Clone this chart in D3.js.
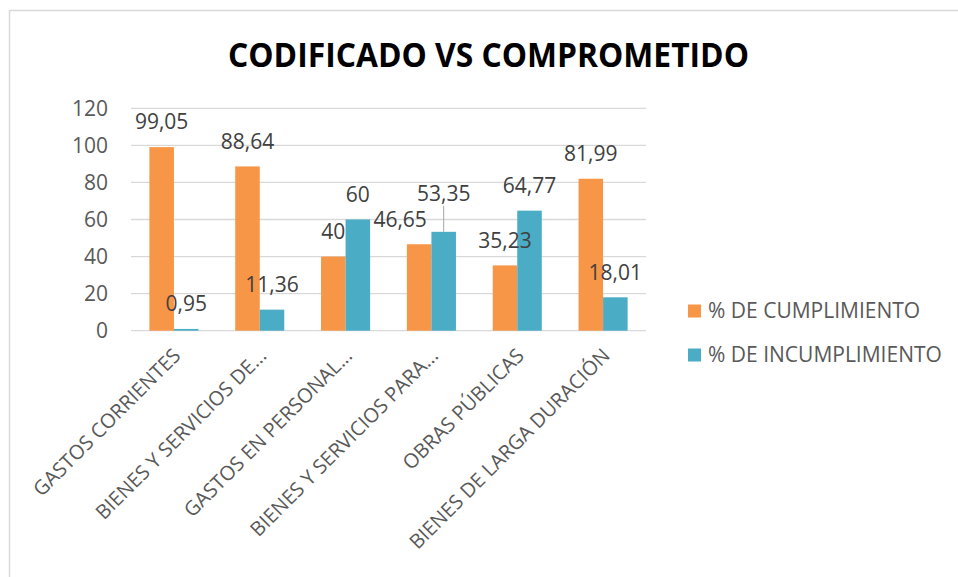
<!DOCTYPE html>
<html>
<head>
<meta charset="utf-8">
<script src="https://cdn.jsdelivr.net/npm/d3@7"></script>
<style>
  body { margin: 0; background: #fff; }
  svg { display: block; }
  text { font-family: "Open Sans", "Noto Sans", sans-serif; }
</style>
</head>
<body>
<svg id="chart"></svg>
<script>
const categories = ["GASTOS CORRIENTES", "BIENES Y SERVICIOS DE...", "GASTOS EN PERSONAL...",
    "BIENES Y SERVICIOS PARA...", "OBRAS PÚBLICAS", "BIENES DE LARGA DURACIÓN"];
const seriesNames = ["% DE CUMPLIMIENTO", "% DE INCUMPLIMIENTO"];
const cumplimiento = [99.05, 88.64, 40, 46.65, 35.23, 81.99];
const incumplimiento = [0.95, 11.36, 60, 53.35, 64.77, 18.01];
const yTicks = [0, 20, 40, 60, 80, 100, 120];

document.addEventListener("DOMContentLoaded", function () {
    const width = 958, height = 577;
    const colors = ["#F79646", "#4BACC6"];
    const textColor = "#595959";
    const labelColor = "#404040";

    const svg = d3.select("#chart")
        .attr("width", width)
        .attr("height", height);

    // chart frame (only top and left edges are in view)
    svg.append("rect")
        .attr("x", 9.5).attr("y", 10.5)
        .attr("width", 1000).attr("height", 600)
        .attr("fill", "none")
        .attr("stroke", "#d9d9d9")
        .attr("stroke-width", 1.5);

    svg.append("text")
        .attr("x", 488.5).attr("y", 67)
        .attr("text-anchor", "middle")
        .attr("font-size", 34)
        .attr("font-weight", "bold")
        .attr("fill", "#000")
        .attr("textLength", 521)
        .attr("lengthAdjust", "spacingAndGlyphs")
        .text("CODIFICADO VS COMPROMETIDO");

    const x = d3.scaleBand().domain(categories).range([131, 646]);
    const xs = d3.scaleBand().domain([0, 1]).range([0, x.bandwidth()]).paddingOuter(0.75);
    const y = d3.scaleLinear().domain([0, 120]).range([330.7, 108.3]);

    // gridlines
    svg.append("g")
        .selectAll("line")
        .data(yTicks)
        .join("line")
        .attr("x1", 131).attr("x2", 646)
        .attr("y1", d => y(d)).attr("y2", d => y(d))
        .attr("stroke", "#d9d9d9")
        .attr("stroke-width", 1.3);

    // y tick labels
    svg.append("g")
        .selectAll("text")
        .data(yTicks)
        .join("text")
        .attr("x", 108)
        .attr("y", d => y(d))
        .attr("dy", "0.35em")
        .attr("text-anchor", "end")
        .attr("font-size", 21)
        .attr("fill", textColor)
        .text(d => d);

    const series = [cumplimiento, incumplimiento];
    const rows = [];
    series.forEach((vals, s) => vals.forEach((v, i) => rows.push({ s, i, v })));

    svg.append("g")
        .selectAll("rect")
        .data(rows)
        .join("rect")
        .attr("x", d => x(categories[d.i]) + xs(d.s))
        .attr("y", d => y(d.v))
        .attr("width", xs.bandwidth())
        .attr("height", d => y(0) - y(d.v))
        .attr("fill", d => colors[d.s]);

    // manual nudges for overlapping data labels (series-category)
    const nudge = { "0-3": { dx: -19, dy: 0 }, "1-3": { dx: 0, dy: -13 } };
    const fmt = v => String(v).replace(".", ",");

    const labels = svg.append("g");
    rows.forEach(d => {
        const n = nudge[d.s + "-" + d.i] || { dx: 0, dy: 0 };
        const cx = x(categories[d.i]) + xs(d.s) + xs.bandwidth() / 2;
        const cy = y(d.v) - 25 + n.dy;
        labels.append("text")
            .attr("x", cx + n.dx)
            .attr("y", cy)
            .attr("dy", "0.35em")
            .attr("text-anchor", "middle")
            .attr("font-size", 21)
            .attr("fill", labelColor)
            .text(fmt(d.v));
        if (n.dy < 0) {
            labels.append("line")
                .attr("x1", cx).attr("x2", cx)
                .attr("y1", cy + 12).attr("y2", y(d.v))
                .attr("stroke", "#a6a6a6")
                .attr("stroke-width", 1);
        }
    });

    // category labels
    svg.append("g")
        .selectAll("text")
        .data(categories)
        .join("text")
        .attr("transform", d => `translate(${x(d) + x.bandwidth() / 2 + 3},${352}) rotate(-45)`)
        .attr("text-anchor", "end")
        .attr("dy", "0.35em")
        .attr("font-size", 20)
        .attr("fill", textColor)
        .text(d => d);

    // legend
    const legend = svg.append("g")
        .selectAll("g")
        .data(seriesNames)
        .join("g")
        .attr("transform", (d, i) => `translate(688,${311 + i * 44})`);
    legend.append("rect")
        .attr("x", 0).attr("y", -6.5)
        .attr("width", 13).attr("height", 13)
        .attr("fill", (d, i) => colors[i]);
    legend.append("text")
        .attr("x", 20)
        .attr("dy", "0.35em")
        .attr("font-size", 21)
        .attr("fill", textColor)
        .text(d => d);
});
</script>
</body>
</html>
